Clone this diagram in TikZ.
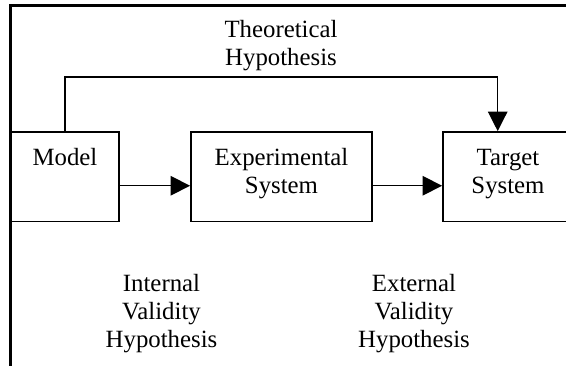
\documentclass[tikz,border=0pt]{standalone}
\usepackage{fontspec}
\setmainfont{Liberation Serif}
\usetikzlibrary{arrows.meta,calc}
\begin{document}
\begin{tikzpicture}[x=1pt,y=-1pt,
  box/.style={draw,line width=1.8pt,minimum height=89.5pt,inner sep=0pt},
  lbl/.style={align=center,anchor=north,inner sep=0pt,font=\fontsize{24.8}{28}\selectfont},
  conn/.style={line width=1.3pt},
  arr/.style={conn,-{Triangle[length=19.5pt,width=19.5pt]}},
  frame/.style={line width=2.5pt}]
\useasboundingbox (0,0) rectangle (566,366);
\clip (0,0) rectangle (566,366);
% frame
\coordinate (fb) at (10.3,370);
\coordinate (ftl) at (10.3,5.7);
\coordinate (ftr) at (572,5.7);
\draw[frame] (fb) -- (ftl) -- (ftr);
% boxes
\node[box,minimum width=108pt] (model) at (65,176.75) {};
\node[box,minimum width=180.7pt] (exp) at (281.35,176.75) {};
\node[box,minimum width=132pt] (target) at (509,176.75) {};
% box texts
\node[lbl] (tmodel) at (65,147) {\rule{0pt}{18pt}Model};
\node[lbl] (texp) at (281.5,147) {\rule{0pt}{18pt}Experimental\\System};
\node[lbl] (ttarget) at (508,147) {\rule{0pt}{18pt}Target\\System};
% other labels
\node[lbl] (theo) at (281,19) {\rule{0pt}{18pt}Theoretical\\Hypothesis};
\node[lbl] (intv) at (161.5,273) {\rule{0pt}{18pt}Internal\\Validity\\Hypothesis};
\node[lbl] (extv) at (414,273) {\rule{0pt}{18pt}External\\Validity\\Hypothesis};
% connectors
\draw[arr] ([yshift=-9pt]model.east) -- ([yshift=-9pt]exp.west);
\draw[arr] ([yshift=-9pt]exp.east) -- ([yshift=-9pt]target.west);
\coordinate (tc) at (497.7,77);
\draw[arr] (model.north) |- (tc) -- (tc |- target.north);
\end{tikzpicture}
\end{document}
